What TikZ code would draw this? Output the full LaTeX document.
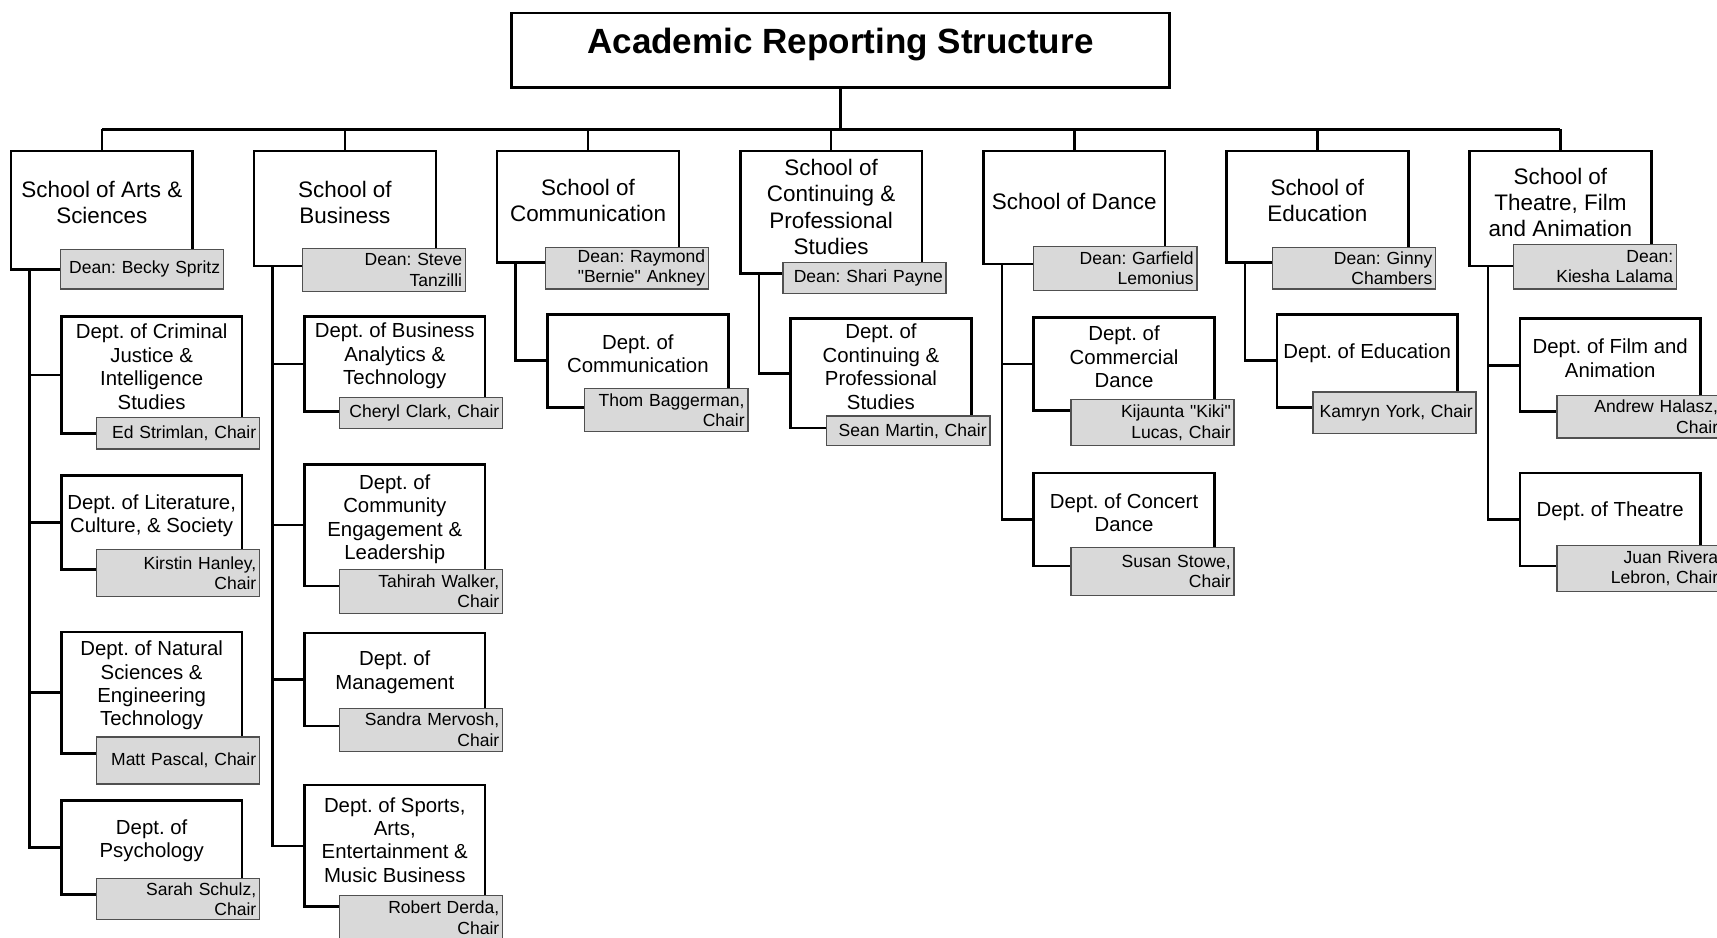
\documentclass[tikz,border=0pt]{standalone}
\usepackage{fontspec}
\setmainfont{Liberation Sans}
\frenchspacing
\definecolor{namefill}{RGB}{217,217,217}
\definecolor{namedraw}{RGB}{80,80,80}
\tikzset{
  base/.style={inner sep=0pt, outer sep=0pt, anchor=north west},
  titlebox/.style={base, draw=black, line width=2.4pt, fill=white, minimum width=601pt, minimum height=68pt},
  schoolbox/.style={base, draw=black, line width=2.4pt, fill=white, minimum width=166pt, minimum height=#1},
  deptbox/.style={base, draw=black, line width=2.4pt, fill=white, minimum width=165pt, minimum height=#1},
  namebox/.style={base, draw=namedraw, line width=1.2pt, fill=namefill, minimum height=#1,
    text width=143pt, inner xsep=3pt, align=right, font=\fontsize{16}{18.6}\selectfont},
  titletxt/.style={inner sep=0pt, font=\fontsize{32}{36}\selectfont\bfseries},
  schooltxt/.style={inner sep=0pt, align=center, font=\fontsize{20.5}{24}\selectfont},
  depttxt/.style={inner sep=0pt, align=center, font=\fontsize{18.6}{21.4}\selectfont},
  link/.style={draw=black, line width=2.4pt}
}
\begin{document}
\begin{tikzpicture}[x=1pt,y=-1pt]
\useasboundingbox (0,0) rectangle (1568,856);
\fill[white] (0,0) rectangle (1568,856);

% ---------- title ----------
\node[titlebox] (title) at (467,12) {};
\node[titletxt] (titletext) at (767.5,41) {Academic Reporting Structure};
\coordinate (bus) at (767.5,118);

% ---------- schools ----------
\node[schoolbox=108pt] (s1) at (10,138) {};
\node[schoolbox=105pt] (s2) at (232,138) {};
\node[schoolbox=102pt] (s3) at (454,138) {};
\node[schoolbox=112pt] (s4) at (676,138) {};
\node[schoolbox=103pt] (s5) at (898,138) {};
\node[schoolbox=102pt] (s6) at (1120,138) {};
\node[schoolbox=105pt] (s7) at (1342,138) {};

% bus connectors
\draw[link] (title.south) -- (title.south |- bus);
\draw[link] (s1.north |- bus) -- (s7.north |- bus);
\foreach \s in {s1,s2,s3,s4,s5,s6,s7} {
  \draw[link] (\s.north) -- (\s.north |- bus);
}

\node[schooltxt] (s1t) at (93,185) {School of Arts \&\\Sciences};
\node[schooltxt] (s2t) at (315,185) {School of\\Business};
\node[schooltxt] (s3t) at (537,183) {School of\\Communication};
\node[schooltxt] (s4t) at (759,189) {School of\\Continuing \&\\Professional\\Studies};
\node[schooltxt] (s5t) at (981,184) {School of Dance};
\node[schooltxt] (s6t) at (1203,183) {School of\\Education};
\node[schooltxt] (s7t) at (1425,185) {School of\\Theatre, Film\\and Animation};

% ---------- departments ----------
\node[deptbox=107pt] (a1) at (56,289) {};
\node[deptbox=86pt]  (a2) at (56,434) {};
\node[deptbox=111pt] (a3) at (56,577) {};
\node[deptbox=86pt]  (a4) at (56,731) {};
\node[deptbox=87pt]  (b1) at (278,289) {};
\node[deptbox=111pt] (b2) at (278,424) {};
\node[deptbox=85pt]  (b3) at (278,578) {};
\node[deptbox=111pt] (b4) at (278,717) {};
\node[deptbox=85pt]  (c1) at (500,287) {};
\node[deptbox=100pt] (e1) at (722,291) {};
\node[deptbox=85pt]  (f1) at (944,290) {};
\node[deptbox=85pt]  (f2) at (944,432) {};
\node[deptbox=85pt]  (g1) at (1166,287) {};
\node[deptbox=85pt]  (h1) at (1388,291) {};
\node[deptbox=85pt]  (h2) at (1388,432) {};

% spine connectors
\foreach \s/\d in {s1/a1,s1/a2,s1/a3,s1/a4,s2/b1,s2/b2,s2/b3,s2/b4,s3/c1,s4/e1,s5/f1,s5/f2,s6/g1,s7/h1,s7/h2} {
  \draw[link] ([xshift=17pt]\s.south west) |- (\d.west);
}

\node[depttxt] (a1t) at (138.5,335) {Dept. of Criminal\\Justice \&\\Intelligence\\Studies};
\node[depttxt] (a2t) at (138.5,471) {Dept. of Literature,\\Culture, \& Society};
\node[depttxt] (a3t) at (138.5,626) {Dept. of Natural\\Sciences \&\\Engineering\\Technology};
\node[depttxt] (a4t) at (138.5,768) {Dept. of\\Psychology};
\node[depttxt] (b1t) at (360.5,325) {Dept. of Business\\Analytics \&\\Technology};
\node[depttxt] (b2t) at (360.5,474) {Dept. of\\Community\\Engagement \&\\Leadership};
\node[depttxt] (b3t) at (360.5,614) {Dept. of\\Management};
\node[depttxt] (b4t) at (360.5,767) {Dept. of Sports,\\Arts,\\Entertainment \&\\Music Business};
\node[depttxt] (c1t) at (582.5,323) {Dept. of\\Communication};
\node[depttxt] (e1t) at (804.5,335) {Dept. of\\Continuing \&\\Professional\\Studies};
\node[depttxt] (f1t) at (1026.5,326) {Dept. of\\Commercial\\Dance};
\node[depttxt] (f2t) at (1026.5,468) {Dept. of Concert\\Dance};
\node[depttxt] (g1t) at (1248.5,323) {Dept. of Education};
\node[depttxt] (h1t) at (1470.5,327) {Dept. of Film and\\Animation};
\node[depttxt] (h2t) at (1470.5,467) {Dept. of Theatre};

% ---------- deans ----------
\node[namebox=36pt] (d1) at (55,228) {Dean: Becky Spritz};
\node[namebox=39pt] (d2) at (276,227) {Dean: Steve\\Tanzilli};
\node[namebox=38pt] (d3) at (498,226) {Dean: Raymond\\\textquotedbl Bernie\textquotedbl{} Ankney};
\node[namebox=28pt] (d4) at (715,240) {Dean: Shari Payne};
\node[namebox=40pt] (d5) at (944,225) {Dean: Garfield\\Lemonius};
\node[namebox=38pt] (d6) at (1162,226) {Dean: Ginny\\Chambers};
\node[namebox=41pt] (d7) at (1382,223) {Dean:\\Kiesha Lalama};

% ---------- chairs ----------
\node[namebox=29pt] (ca1) at (88,381) {Ed Strimlan, Chair};
\node[namebox=43pt] (ca2) at (88,502) {Kirstin Hanley,\\Chair};
\node[namebox=43pt] (ca3) at (88,673) {Matt Pascal, Chair};
\node[namebox=38pt] (ca4) at (88,802) {Sarah Schulz,\\Chair};
\node[namebox=28pt] (cb1) at (310,363) {Cheryl Clark, Chair};
\node[namebox=40pt] (cb2) at (310,520) {Tahirah Walker,\\Chair};
\node[namebox=39pt] (cb3) at (310,647) {Sandra Mervosh,\\Chair};
\node[namebox=40pt] (cb4) at (310,818) {Robert Derda,\\Chair};
\node[namebox=39pt] (cc1) at (534,355) {Thom Baggerman,\\Chair};
\node[namebox=27pt] (ce1) at (755,380) {Sean Martin, Chair};
\node[namebox=42pt] (cf1) at (978,365) {Kijaunta \textquotedbl Kiki\textquotedbl\\Lucas, Chair};
\node[namebox=44pt] (cf2) at (978,500) {Susan Stowe,\\Chair};
\node[namebox=38pt] (cg1) at (1199,358) {Kamryn York, Chair};
\node[namebox=39pt, text width=144pt] (ch1) at (1422,361) {Andrew Halasz,\\Chair};
\node[namebox=42pt, text width=144pt] (ch2) at (1422,498) {Juan Rivera\\Lebron, Chair};
\end{tikzpicture}
\end{document}
